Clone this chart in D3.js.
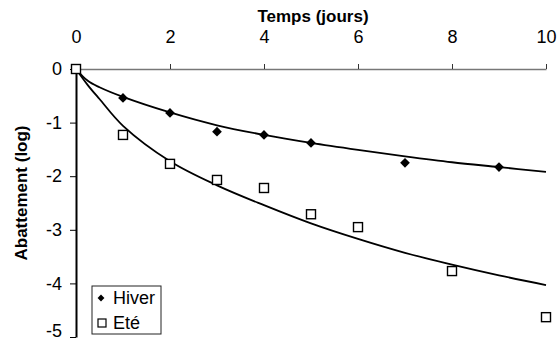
<!DOCTYPE html>
<html lang="fr">
<head>
<meta charset="UTF-8">
<title>Abattement</title>
<script src="https://d3js.org/d3.v7.min.js"></script>
<style>
  body { margin: 0; background: #fff; }
  svg text { font-family: Arial, "Liberation Sans", sans-serif; fill: #000; }
</style>
</head>
<body>
<script>
// measured points
const hiverDays = [0, 1, 2, 3, 4, 5, 7, 9];
const hiverVals = [0, -0.54, -0.82, -1.17, -1.23, -1.38, -1.75, -1.83];
const eteDays = [0, 1, 2, 3, 4, 5, 6, 8, 10];
const eteVals = [0, -1.23, -1.77, -2.07, -2.22, -2.71, -2.95, -3.77, -4.63];

// fitted curves
const fitDays = [0, 0.25, 0.5, 1, 2, 3, 4, 5, 6, 7, 8, 9, 10];
const hiverFit = [0, -0.22, -0.34, -0.52, -0.81, -1.05, -1.23, -1.38, -1.51, -1.63, -1.74, -1.83, -1.92];
const eteFit = [0, -0.30, -0.56, -1.06, -1.72, -2.17, -2.54, -2.88, -3.17, -3.43, -3.65, -3.85, -4.03];

const xTicks = [0, 2, 4, 6, 8, 10];
const yTicks = [0, -1, -2, -3, -4, -5];

const W = 557, H = 342;
const svg = d3.select("body").append("svg").attr("width", W).attr("height", H);

const x = d3.scaleLinear().domain([0, 10]).range([76, 546]);
const y = d3.scaleLinear().domain([0, -5]).range([69, 337]);

// x axis on top
const gx = svg.append("g").attr("transform", `translate(0,${y(0)})`)
  .call(d3.axisTop(x).tickValues(xTicks).tickSizeInner(5).tickSizeOuter(0).tickPadding(21)
    .tickFormat(d => String(d)));
gx.select(".domain").attr("stroke", "#777").attr("stroke-width", 1.5);
gx.selectAll(".tick line").attr("stroke", "#333");
gx.selectAll(".tick text").style("font-size", "18px");

// y axis
const gy = svg.append("g").attr("transform", `translate(${x(0)},0)`)
  .call(d3.axisLeft(y).tickValues(yTicks).tickSizeInner(6).tickSizeOuter(0).tickPadding(8)
    .tickFormat(d => String(d)));
gy.select(".domain").attr("stroke", "#000").attr("stroke-width", 2);
gy.selectAll(".tick text").style("font-size", "18px");
// bottom label sits on the window edge, lift it a little so it stays readable
gy.selectAll(".tick text").filter(d => d === -5).attr("y", -6);

svg.append("text")
  .attr("x", 313).attr("y", 22)
  .attr("text-anchor", "middle")
  .style("font-size", "17px").style("font-weight", "bold")
  .text("Temps (jours)");

svg.append("text")
  .attr("transform", "translate(27,193) rotate(-90)")
  .attr("text-anchor", "middle")
  .style("font-size", "17px").style("font-weight", "bold")
  .text("Abattement (log)");

// curves
const line = d3.line().x(d => x(d[0])).y(d => y(d[1])).curve(d3.curveCatmullRom);
svg.append("path").datum(d3.zip(fitDays, hiverFit))
  .attr("d", line).attr("fill", "none").attr("stroke", "#000").attr("stroke-width", 1.8);
svg.append("path").datum(d3.zip(fitDays, eteFit))
  .attr("d", line).attr("fill", "none").attr("stroke", "#000").attr("stroke-width", 1.8);

// markers
const diamond = d3.symbol().type(d3.symbolDiamond2).size(60);
svg.append("g").selectAll("path")
  .data(d3.zip(hiverDays, hiverVals))
  .join("path")
  .attr("transform", d => `translate(${x(d[0])},${y(d[1])})`)
  .attr("d", diamond)
  .attr("fill", "#000");

svg.append("g").selectAll("rect")
  .data(d3.zip(eteDays, eteVals))
  .join("rect")
  .attr("x", d => x(d[0]) - 4.5).attr("y", d => y(d[1]) - 4.5)
  .attr("width", 9).attr("height", 9)
  .attr("fill", "#fff").attr("stroke", "#000").attr("stroke-width", 1.4);

// legend
const lg = svg.append("g");
lg.append("rect").attr("x", 92).attr("y", 286).attr("width", 69).attr("height", 48)
  .attr("fill", "#fff").attr("stroke", "#222").attr("stroke-width", 1);
lg.append("path").attr("transform", "translate(101,298)")
  .attr("d", d3.symbol().type(d3.symbolDiamond2).size(30)).attr("fill", "#000");
lg.append("rect").attr("x", 98).attr("y", 319).attr("width", 8).attr("height", 8)
  .attr("fill", "#fff").attr("stroke", "#000").attr("stroke-width", 1.2);
lg.append("text").attr("x", 113).attr("y", 304).style("font-size", "18px").text("Hiver");
lg.append("text").attr("x", 113).attr("y", 329).style("font-size", "18px").text("Eté");
</script>
</body>
</html>
